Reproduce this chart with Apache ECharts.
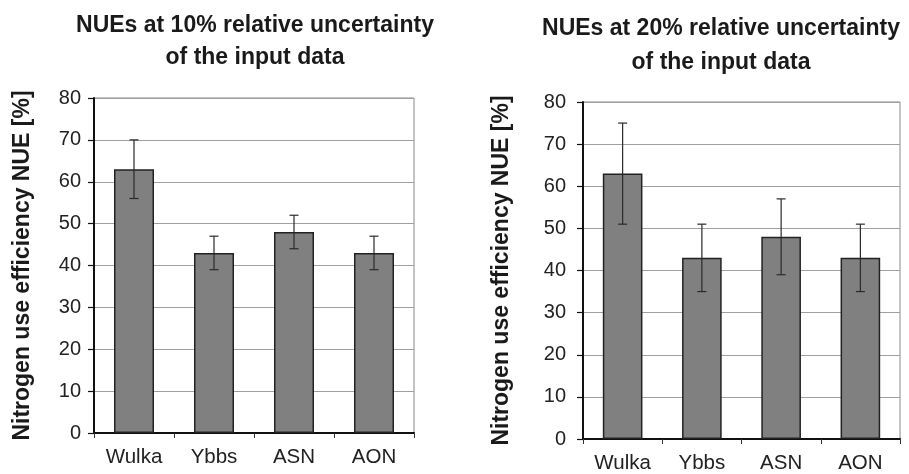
<!DOCTYPE html>
<html>
<head>
<meta charset="utf-8">
<script src="https://cdn.jsdelivr.net/npm/echarts@6/dist/echarts.min.js"></script>
<style>
  html, body { margin: 0; padding: 0; background: #fff; }
  #chart { width: 909px; height: 474px; }
</style>
</head>
<body>
<div id="chart"></div>
<script>
// Sites compared in both panels
const sites = ['Wulka', 'Ybbs', 'ASN', 'AON'];
// Mean nitrogen use efficiency (%) per site
const nue = [63, 43, 48, 43];
// Uncertainty ranges at 10% relative input uncertainty
const low10 = [56, 39, 44, 39];
const high10 = [70, 47, 52, 47];
// Uncertainty ranges at 20% relative input uncertainty
const low20 = [51, 35, 39, 35];
const high20 = [75, 51, 57, 51];
// Axis ticks
const yTicks = [0, 10, 20, 30, 40, 50, 60, 70, 80];

const titles = [
  'NUEs at 10% relative uncertainty\nof the input data',
  'NUEs at 20% relative uncertainty\nof the input data'
];
const yName = 'Nitrogen use efficiency NUE [%]';

const FONT = '"Liberation Sans", Arial, Helvetica, sans-serif';

const chart = echarts.init(document.getElementById('chart'), null, { renderer: 'canvas' });

function errorSeries(idx, lows, highs) {
  return {
    type: 'custom',
    xAxisIndex: idx,
    yAxisIndex: idx,
    z: 5,
    data: sites.map((s, i) => [i, lows[i], highs[i]]),
    renderItem: function (params, api) {
      const x = api.value(0);
      const lo = api.coord([x, api.value(1)]);
      const hi = api.coord([x, api.value(2)]);
      const cap = 4.5;
      const style = { stroke: '#2a2a2a', lineWidth: 1.2 };
      return {
        type: 'group',
        children: [
          { type: 'line', shape: { x1: lo[0], y1: lo[1], x2: hi[0], y2: hi[1] }, style: style },
          { type: 'line', shape: { x1: hi[0] - cap, y1: hi[1], x2: hi[0] + cap, y2: hi[1] }, style: style },
          { type: 'line', shape: { x1: lo[0] - cap, y1: lo[1], x2: lo[0] + cap, y2: lo[1] }, style: style }
        ]
      };
    }
  };
}

function xAxisFor(idx) {
  return {
    type: 'category',
    gridIndex: idx,
    data: sites,
    axisLine: { show: true, lineStyle: { color: '#111', width: 2 } },
    axisTick: { show: true, length: 5, alignWithLabel: false, lineStyle: { color: '#333', width: 1 } },
    axisLabel: { color: '#222', fontFamily: FONT, fontSize: 20.5, margin: 14 },
    splitLine: { show: false }
  };
}

function yAxisFor(idx, gap, labelMargin) {
  return {
    type: 'value',
    gridIndex: idx,
    min: 0,
    max: 80,
    interval: 10,
    name: yName,
    nameLocation: 'middle',
    nameRotate: 90,
    nameGap: gap,
    nameTextStyle: { color: '#1a1a1a', fontFamily: FONT, fontSize: 23, fontWeight: 'bold' },
    axisLine: { show: true, lineStyle: { color: '#111', width: 2 } },
    axisTick: { show: true, length: 6, inside: false, lineStyle: { color: '#111', width: 1.2 } },
    axisLabel: {
      color: '#222', fontFamily: FONT, fontSize: 20, margin: labelMargin,
      formatter: function (v) { return yTicks.indexOf(v) >= 0 ? String(v) : ''; }
    },
    splitLine: { show: true, lineStyle: { color: '#a0a0a0', width: 1 } }
  };
}

function barSeries(idx) {
  return {
    type: 'bar',
    xAxisIndex: idx,
    yAxisIndex: idx,
    data: nue,
    barWidth: '50%',
    itemStyle: { color: '#808080', borderColor: '#222', borderWidth: 1.5 },
    z: 3
  };
}

chart.setOption({
  animation: false,
  backgroundColor: '#fff',
  title: [
    {
      text: titles[0], left: 255, top: 10, textAlign: 'center', padding: 0,
      textStyle: { color: '#1a1a1a', fontFamily: FONT, fontSize: 23, fontWeight: 'bold', lineHeight: 32 }
    },
    {
      text: titles[1], left: 721, top: 12, textAlign: 'center', padding: 0,
      textStyle: { color: '#1a1a1a', fontFamily: FONT, fontSize: 23, fontWeight: 'bold', lineHeight: 34 }
    }
  ],
  grid: [
    { left: 94, top: 98, width: 320, height: 335, show: true, borderColor: '#8a8a8a', borderWidth: 1, containLabel: false },
    { left: 583, top: 102, width: 317, height: 339, show: true, borderColor: '#8a8a8a', borderWidth: 1, containLabel: false }
  ],
  xAxis: [xAxisFor(0), xAxisFor(1)],
  yAxis: [yAxisFor(0, 60, 13), yAxisFor(1, 70, 17)],
  series: [
    barSeries(0), errorSeries(0, low10, high10),
    barSeries(1), errorSeries(1, low20, high20)
  ]
});
</script>
</body>
</html>
